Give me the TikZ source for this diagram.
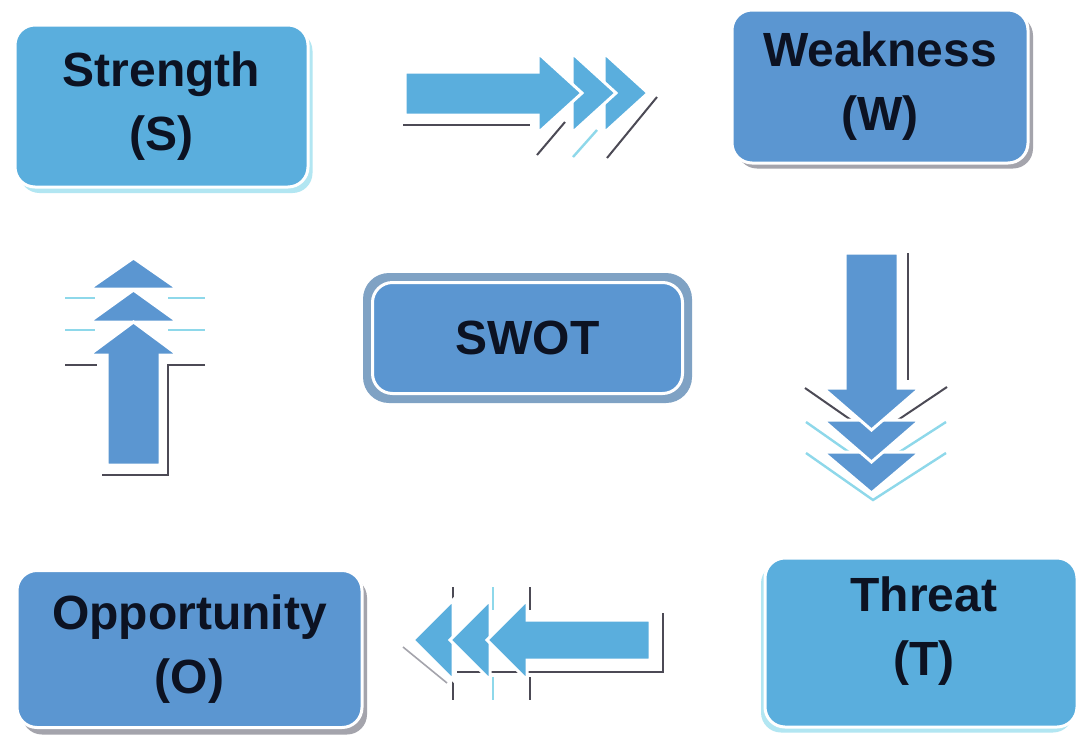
\documentclass[tikz,border=0pt]{standalone}
\usepackage{fontspec}
\setmainfont{Liberation Sans}
\definecolor{lblue}{HTML}{5AAEDD}
\definecolor{mblue}{HTML}{5B96D1}
\definecolor{swotrim}{HTML}{7FA2C4}
\definecolor{cyanrim}{HTML}{B2E6F2}
\definecolor{grayrim}{HTML}{A4A4AC}
\definecolor{txt}{HTML}{0C1222}
\definecolor{shline}{HTML}{4C4A55}
\definecolor{cyline}{HTML}{8ED8EA}
\begin{document}
\begin{tikzpicture}[x=0.5pt,y=-0.5pt,
  box/.style={draw=white, line width=1.5pt, rounded corners=10pt, text=txt,
    align=center, inner sep=0pt, font=\bfseries\fontsize{24}{32}\selectfont},
  lbl/.style={text=txt, align=center, inner sep=0pt, font=\bfseries\fontsize{24}{32}\selectfont},
  rim/.style={rounded corners=10pt, inner sep=0pt},
  arr/.style={draw=white, line width=1.5pt, line join=miter},
  shl/.style={draw=shline, line width=1pt},
  cyl/.style={draw=cyline, line width=1.2pt}]
\useasboundingbox[fill=white] (0,0) rectangle (1083,740);

% ---------- boxes ----------
% Strength
\node[rim, fill=cyanrim, minimum width=146.5pt, minimum height=81pt] (srim) at (166,112) {};
\node[box, fill=lblue, minimum width=146.5pt, minimum height=81pt] (s) at (161.5,106) {Strength\\(S)};
% Weakness
\node[rim, fill=grayrim, minimum width=148pt, minimum height=76.5pt] (wrim) at (885,92) {};
\node[box, fill=mblue, minimum width=148pt, minimum height=76.5pt] (w) at (880,86.5) {Weakness\\(W)};
% SWOT
\node[rim, fill=swotrim, rounded corners=13pt, minimum width=164.5pt, minimum height=65pt] (swotrim) at (527.5,338) {};
\node[box, fill=mblue, minimum width=155pt, minimum height=55.5pt] (swot) at (527.5,338) {SWOT};
% Opportunity
\node[rim, fill=grayrim, minimum width=172.5pt, minimum height=78.5pt] (orim) at (194.5,656) {};
\node[box, fill=mblue, minimum width=172.5pt, minimum height=78.5pt] (o) at (189.5,649) {Opportunity\\(O)};
% Threat
\node[rim, fill=cyanrim, minimum width=156pt, minimum height=84.5pt] (trim) at (917,648) {};
\node[box, fill=lblue, minimum width=156pt, minimum height=84.5pt] (t) at (921,642.5) {};
\node[lbl] (tlabel) at (924,631) {Threat\\(T)};

% ---------- right arrow (S -> W) ----------
\draw[shl] (403,125) -- (530,125);
\draw[shl] (537,155) -- (565,122);
\draw[cyl] (573,157) -- (597,130);
\draw[shl] (607,158) -- (657,97);
\filldraw[arr, fill=lblue] (604,53) -- (648,93) -- (604,133) -- cycle;
\filldraw[arr, fill=lblue] (572,53) -- (616,93) -- (572,133) -- cycle;
\filldraw[arr, fill=lblue] (405,72) -- (538,72) -- (538,53) -- (582,93) -- (538,133) -- (538,115) -- (405,115) -- cycle;

% ---------- down arrow (W -> T) ----------
\draw[shl] (908,253) -- (908,380);
\draw[shl] (805,388) -- (874,436) -- (947,387);
\draw[cyl] (806,422) -- (873,469) -- (946,422);
\draw[cyl] (806,453) -- (873,500) -- (946,453);
\filldraw[arr, fill=mblue] (823,452) -- (871.5,493) -- (920,452) -- cycle;
\filldraw[arr, fill=mblue] (823,420) -- (871.5,462) -- (920,420) -- cycle;
\filldraw[arr, fill=mblue] (845,253) -- (898,253) -- (898,388) -- (920,388) -- (871.5,430) -- (823,388) -- (845,388) -- cycle;

% ---------- left arrow (T -> O) ----------
\draw[shl] (457,672) -- (663,672) -- (663,613);
\draw[shl] (453,587) -- (453,610);
\draw[shl] (453,677) -- (453,700);
\draw[cyl] (493,587) -- (493,610);
\draw[cyl] (493,677) -- (493,700);
\draw[shl] (530,587) -- (530,610);
\draw[shl] (530,677) -- (530,700);
\draw[draw=grayrim, line width=0.8pt] (403,647) -- (447,683);
\filldraw[arr, fill=lblue] (453,600) -- (413,640) -- (453,680) -- cycle;
\filldraw[arr, fill=lblue] (490,600) -- (450,640) -- (490,680) -- cycle;
\filldraw[arr, fill=lblue] (650,620) -- (527,620) -- (527,600) -- (487,640) -- (527,680) -- (527,660) -- (650,660) -- cycle;

% ---------- up arrow (O -> S) ----------
\draw[cyl] (65,298) -- (95,298);
\draw[cyl] (168,298) -- (205,298);
\draw[cyl] (65,330) -- (95,330);
\draw[cyl] (168,330) -- (205,330);
\draw[shl] (65,365) -- (97,365);
\draw[shl] (205,365) -- (168,365) -- (168,475) -- (102,475);
\filldraw[arr, fill=mblue] (89,289) -- (133.5,258) -- (178,289) -- cycle;
\filldraw[arr, fill=mblue] (89,322) -- (133.5,290) -- (178,322) -- cycle;
\filldraw[arr, fill=mblue] (107,465) -- (107,355) -- (89,355) -- (133.5,322) -- (178,355) -- (160,355) -- (160,465) -- cycle;
\end{tikzpicture}
\end{document}
